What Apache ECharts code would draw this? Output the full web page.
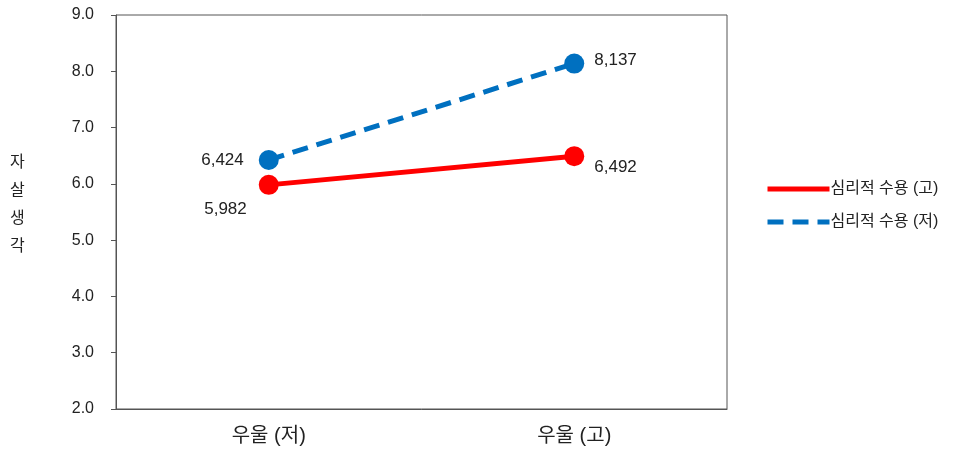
<!DOCTYPE html>
<html><head><meta charset="utf-8">
<script src="https://cdn.jsdelivr.net/npm/echarts@6/dist/echarts.min.js"></script>
<style>html,body{margin:0;padding:0;background:#fff}#c{width:971px;height:452px}</style>
</head><body><div id="c"></div>
<script>
const categories = ['우울 (저)', '우울 (고)'];
const seriesNames = ['심리적 수용 (고)', '심리적 수용 (저)'];
const highAcceptance = [5.982, 6.492];
const lowAcceptance = [6.424, 8.137];
const yTitle = '자살생각';
const FONT = "'Liberation Sans','Noto Sans CJK KR',sans-serif";
const fmt = p => p.value.toFixed(3).replace('.', ',');
const chart = echarts.init(document.getElementById('c'));
chart.setOption({
  animation: false,
  textStyle: { fontFamily: FONT },
  grid: { left: 116, right: 244, top: 15, bottom: 43, show: true, borderColor: '#555', borderWidth: 1 },
  graphic: [{
    type: 'text', left: 10, top: 149,
    style: { text: yTitle.split('').join('\n'), font: '16px ' + FONT, lineHeight: 28, fill: '#222' }
  }],
  legend: {
    orient: 'vertical', left: 760, top: 176, itemWidth: 62, itemHeight: 10, itemGap: 17,
    textStyle: { fontSize: 16, color: '#222', fontFamily: FONT, padding: [0, 0, 0, -4] },
    itemStyle: { opacity: 0 },
    lineStyle: { width: 5 },
    data: seriesNames
  },
  xAxis: {
    type: 'category', data: categories, boundaryGap: true,
    axisLine: { lineStyle: { color: '#555' } },
    axisTick: { inside: true, length: 6, lineStyle: { color: '#555' } },
    axisLabel: { fontSize: 20, color: '#222', margin: 17, fontFamily: FONT }
  },
  yAxis: {
    type: 'value', min: 2, max: 9, interval: 1,
    splitLine: { show: false },
    axisLine: { show: true, lineStyle: { color: '#555' } },
    axisTick: { show: true, length: 5, lineStyle: { color: '#555' } },
    axisLabel: { fontSize: 16, color: '#222', margin: 22, formatter: v => v.toFixed(1), fontFamily: FONT }
  },
  series: [{
    name: seriesNames[0], type: 'line',
    symbol: 'circle', symbolSize: 20,
    lineStyle: { color: '#FF0000', width: 5 }, itemStyle: { color: '#FF0000' },
    label: { show: true, fontSize: 17, color: '#222', formatter: fmt, fontFamily: FONT },
    data: [
      { value: highAcceptance[0], label: { position: 'left', offset: [-7, 24] } },
      { value: highAcceptance[1], label: { position: 'right', offset: [5, 11] } }
    ]
  }, {
    name: seriesNames[1], type: 'line',
    symbol: 'circle', symbolSize: 20,
    lineStyle: { color: '#0070C0', width: 5, type: [16, 9] }, itemStyle: { color: '#0070C0' },
    label: { show: true, fontSize: 17, color: '#222', formatter: fmt, fontFamily: FONT },
    data: [
      { value: lowAcceptance[0], label: { position: 'left', offset: [-10, 0] } },
      { value: lowAcceptance[1], label: { position: 'right', offset: [5, -3] } }
    ]
  }]
});
</script></body></html>
